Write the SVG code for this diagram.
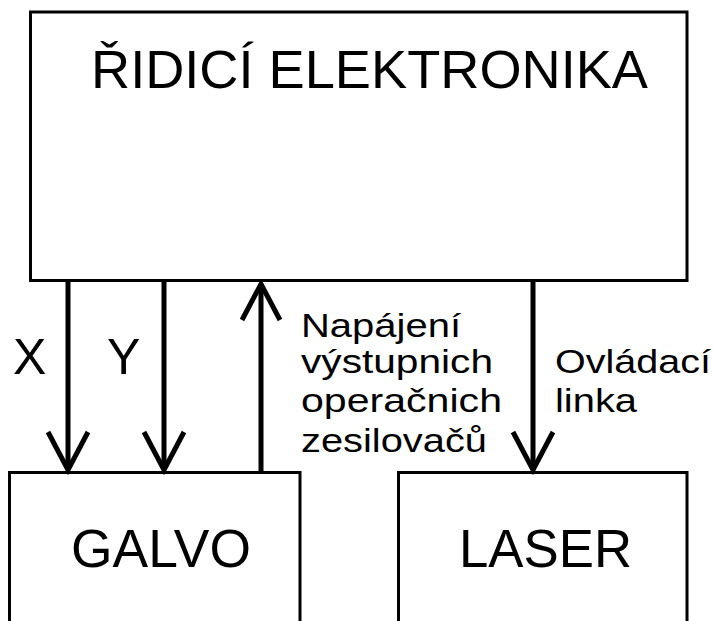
<svg xmlns="http://www.w3.org/2000/svg" width="713" height="621" viewBox="0 0 713 621">
<style>
.box{fill:#fff;stroke:#000;stroke-width:3}
.wire{fill:none;stroke:#000;stroke-width:5}
.head{fill:none;stroke:#000;stroke-width:5;stroke-linejoin:miter}
text{font-family:"Liberation Sans",Arial,sans-serif;fill:#000}
.big{font-size:53px}
.lbl{font-size:34px}
</style>
<rect width="713" height="621" fill="#fff"/>
<g id="ridici">
<rect class="box" x="30.5" y="12" width="656.5" height="268.5"/>
<text class="big" x="91" y="88" textLength="557" lengthAdjust="spacingAndGlyphs">ŘIDICÍ ELEKTRONIKA</text>
</g>
<g id="galvo">
<path class="box" d="M9.5 625 V472.5 H300 V625"/>
<text class="big" x="71" y="567" textLength="180" lengthAdjust="spacingAndGlyphs">GALVO</text>
</g>
<g id="laser">
<path class="box" d="M398.5 625 V472.5 H687 V625"/>
<text class="big" x="459" y="567" textLength="173" lengthAdjust="spacingAndGlyphs">LASER</text>
</g>
<g id="connectors">
<line class="wire" x1="68" y1="281" x2="68" y2="470"/>
<polyline class="head" points="48,432 68,470 88,432"/>
<line class="wire" x1="164" y1="281" x2="164" y2="470"/>
<polyline class="head" points="144,432 164,470 184,432"/>
<line class="wire" x1="261" y1="472" x2="261" y2="284"/>
<polyline class="head" points="242,320 261,284 280,320"/>
<line class="wire" x1="533" y1="281" x2="533" y2="470"/>
<polyline class="head" points="513,432 533,470 553,432"/>
<text x="13" y="374" style="font-size:50px">X</text>
<text x="107" y="374" style="font-size:50px">Y</text>
<text class="lbl" x="301" y="337" textLength="160" lengthAdjust="spacingAndGlyphs">Napájení</text>
<text class="lbl" x="301" y="373" textLength="192" lengthAdjust="spacingAndGlyphs">výstupnich</text>
<text class="lbl" x="301" y="412" textLength="201" lengthAdjust="spacingAndGlyphs">operačnich</text>
<text class="lbl" x="301" y="452" textLength="186" lengthAdjust="spacingAndGlyphs">zesilovačů</text>
<text class="lbl" x="555" y="373" textLength="156" lengthAdjust="spacingAndGlyphs">Ovládací</text>
<text class="lbl" x="555" y="412" textLength="82" lengthAdjust="spacingAndGlyphs">linka</text>
</g>
</svg>
